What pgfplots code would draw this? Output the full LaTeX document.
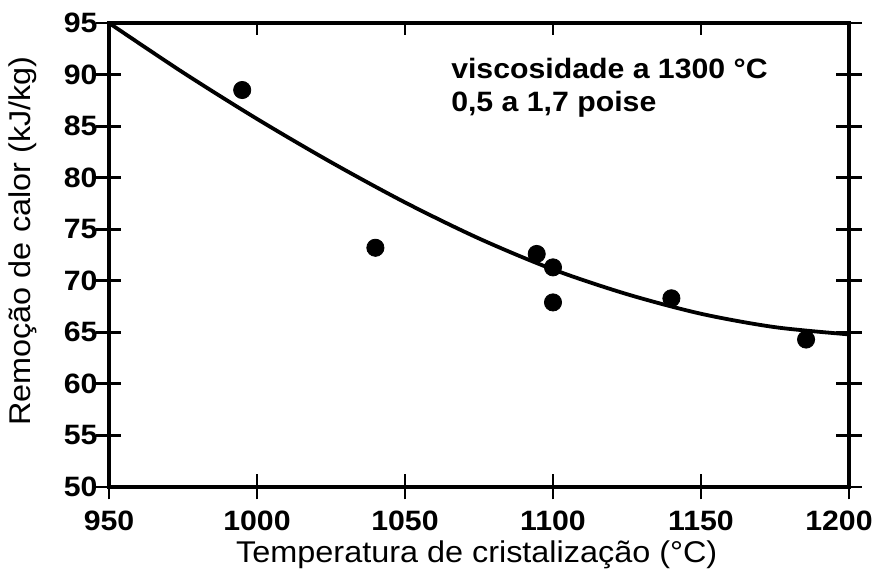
\documentclass[border=0pt]{standalone}
\usepackage{fontspec}
\setmainfont{Liberation Sans}[FakeStretch=1.08]
\usepackage{pgfplots}
\pgfplotsset{compat=1.18}
\begin{document}
\begin{tikzpicture}
\begin{axis}[
  scale only axis,
  width=370pt, height=232pt,
  xmin=950, xmax=1200, ymin=50, ymax=95,
  xtick={950,1000,1050,1100,1150,1200},
  xticklabels={950,1000,1050,1100,1150,\hspace*{-10pt}1200},
  ytick={50,55,60,65,70,75,80,85,90,95},
  xtick pos=bottom,
  ytick pos=both,
  yticklabel pos=left,
  tick align=center,
  major tick length=12.5pt,
  axis line style={line width=1.8pt},
  every tick/.style={black, line width=1.4pt},
  /pgf/number format/assume math mode=true,
  /pgf/number format/1000 sep={},
  ticklabel style={font=\fontsize{14}{16}\selectfont\bfseries},
  xticklabel style={yshift=-2pt},
  yticklabel style={xshift=4pt},
  xlabel={Temperatura de cristalização (°C)},
  ylabel={Remoção de calor (kJ/kg)},
  xlabel style={font=\fontsize{15}{17}\selectfont, at={(axis description cs:0.497,-0.147)}, anchor=center},
  ylabel style={font=\fontsize{15}{17}\selectfont, at={(axis description cs:-0.117,0.53)}, anchor=center},
  clip=false,
]
\addplot[black, line width=1.9pt, smooth, tension=0.5] coordinates {
  (950,95) (975,90.2) (1000,85.7) (1025,81.5) (1050,77.6) (1075,74.1)
  (1100,71.1) (1125,68.7) (1150,66.8) (1175,65.5) (1200,64.8)
};
\addplot[only marks, mark=*, mark size=4.3pt, black] coordinates {
  (995,88.5) (1040,73.2) (1094.5,72.6) (1100,71.3) (1100,67.9) (1140,68.3) (1185.5,64.3)
};
\node[anchor=north west, align=left, inner sep=0pt, font=\fontsize{14}{16.5}\selectfont\bfseries]
  at (axis cs:1065.5,91.6) {viscosidade a 1300 °C\\0,5 a 1,7 poise};
\coordinate (sw) at (rel axis cs:0,0);
\coordinate (ne) at (rel axis cs:1,1);
\end{axis}
\begin{axis}[
  scale only axis,
  width=370pt, height=232pt,
  xmin=950, xmax=1200, ymin=50, ymax=95,
  hide y axis,
  axis x line*=top,
  axis line style={draw=none},
  xtick={1000,1050,1100,1150},
  xticklabels={},
  tick align=inside,
  major tick length=6pt,
  every tick/.style={black, line width=1.4pt},
]
\end{axis}
\pgfresetboundingbox
\path ([shift={(-54.5pt,-47pt)}]sw) rectangle ([shift={(12.5pt,11.5pt)}]ne);
\end{tikzpicture}
\end{document}
